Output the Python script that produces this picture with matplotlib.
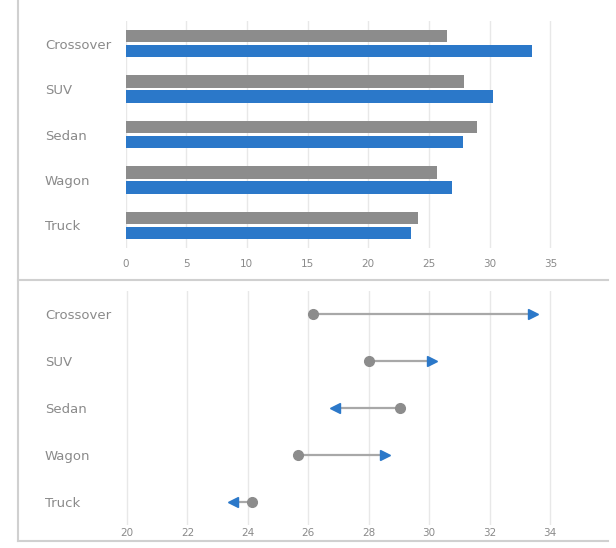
import matplotlib
matplotlib.use("Agg")
import matplotlib.pyplot as plt
from matplotlib.lines import Line2D
import numpy as np

# categories, top to bottom
categories = ["Crossover", "SUV", "Sedan", "Wagon", "Truck"]

# top panel: grouped bars
bar_gray = [26.5, 27.9, 29.0, 25.7, 24.1]
bar_blue = [33.5, 30.3, 27.8, 26.9, 23.5]
bar_ticks = [0, 5, 10, 15, 20, 25, 30, 35]

# bottom panel: dumbbells
dot_gray = [26.15, 28.0, 29.05, 25.65, 24.15]
dot_blue = [33.45, 30.1, 26.9, 28.55, 23.5]
dot_ticks = [20, 22, 24, 26, 28, 30, 32, 34]

GRAY = "#8c8c8c"
BLUE = "#2b78c9"
GRID = "#e8e8e8"
TEXT = "#8a8a8a"

W, H = 616, 548
fig = plt.figure(figsize=(W / 100, H / 100), dpi=100)


def px_axes(left, top, right, bottom):
    return fig.add_axes([left / W, 1 - bottom / H, (right - left) / W, (bottom - top) / H])


def style(ax, ticks, pad_x):
    for s in ax.spines.values():
        s.set_visible(False)
    ax.set_xticks(ticks)
    ax.set_xticklabels([str(t) for t in ticks])
    ax.set_yticks(range(len(categories)))
    ax.set_yticklabels(categories, ha="left")
    ax.tick_params(axis="y", length=0, pad=58, labelsize=9.5, labelcolor=TEXT)
    ax.tick_params(axis="x", length=0, pad=pad_x, labelsize=7.5, labelcolor=TEXT)
    ax.grid(axis="x", color=GRID, linewidth=1)
    ax.set_axisbelow(True)
    ax.set_ylim(len(categories) - 0.5, -0.5)


# ---- top: bars
ax1 = px_axes(125.5, 21, 560, 248)
y = np.arange(len(categories))
ax1.barh(y - 0.165, bar_gray, height=0.27, color=GRAY)
ax1.barh(y + 0.165, bar_blue, height=0.27, color=BLUE)
ax1.set_xlim(0, 35.8)
style(ax1, bar_ticks, 8)

# ---- bottom: dumbbells
ax2 = px_axes(125.5, 291, 560, 525)
for i in range(len(categories)):
    ax2.plot([dot_gray[i], dot_blue[i]], [i, i], color="#a8a8a8", linewidth=1.6, zorder=2)
    ax2.plot(dot_gray[i], i, marker="o", markersize=7, color=GRAY, zorder=3)
    mk = ">" if dot_blue[i] > dot_gray[i] else "<"
    ax2.plot(dot_blue[i], i, marker=mk, markersize=7, color=BLUE, zorder=3)
ax2.set_xlim(19.95, 34.33)
style(ax2, dot_ticks, 2)

# panel borders
border = dict(transform=fig.transFigure, color="#d0d0d0", linewidth=1.5)
fig.add_artist(Line2D([18 / W, 18 / W], [1, 1 - 541 / H], **border))
fig.add_artist(Line2D([18 / W, 608 / W], [1 - 280 / H, 1 - 280 / H], **border))
fig.add_artist(Line2D([18 / W, 608 / W], [1 - 541 / H, 1 - 541 / H], **border))

fig.savefig("out.png", dpi=100, facecolor="white")
